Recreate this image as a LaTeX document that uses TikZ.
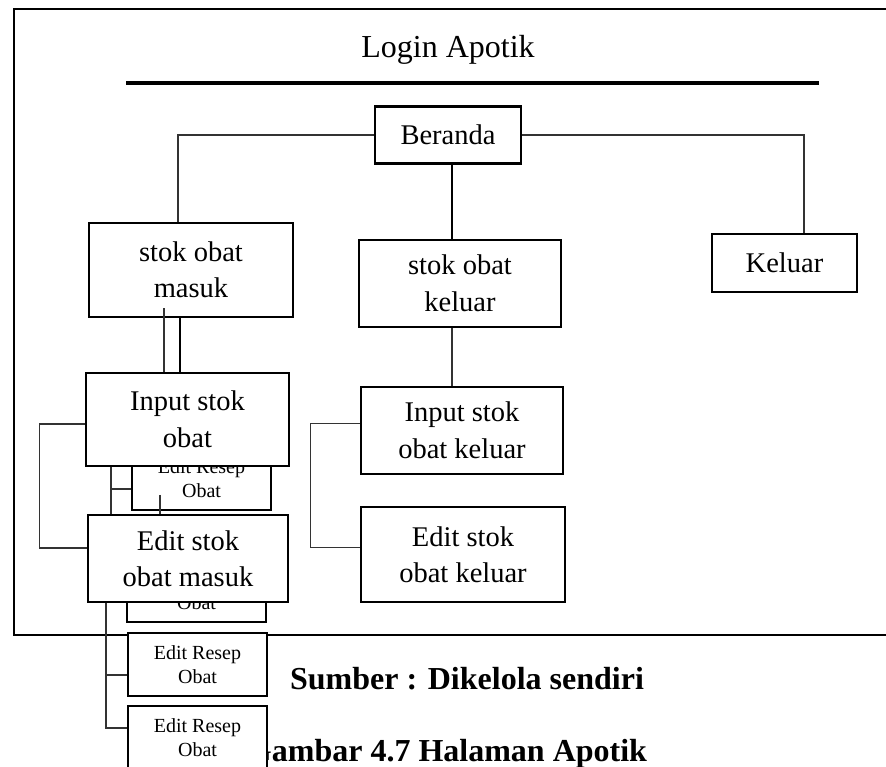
\documentclass[tikz,border=0pt]{standalone}
\usepackage{fontspec}
\setmainfont{Liberation Serif}
\begin{document}
\begin{tikzpicture}[x=1pt,y=-1pt,
  bigbox/.style={draw, line width=2.2pt, fill=white, inner sep=0pt, align=center,
    font=\fontsize{28.5}{36.5}\selectfont},
  smallbox/.style={draw, line width=1.5pt, fill=white, inner sep=0pt, align=center,
    font=\fontsize{20}{24}\selectfont, minimum width=139pt, minimum height=63pt},
  thinline/.style={line width=1.1pt, draw=black!80},
  thickline/.style={line width=2.3pt, draw=black},
  caption/.style={inner sep=0pt, anchor=base, font=\fontsize{32}{38}\selectfont\bfseries}
]
\useasboundingbox (0,0) rectangle (886,767);

% frame
\draw[line width=2.5pt] (886,9) -- (14,9) -- (14,635) -- (886,635);

% title and rule
\node[inner sep=0pt, anchor=base, font=\fontsize{32}{38}\selectfont] (title) at (448,58) {Login Apotik};
\draw[line width=4pt] (126,83) -- (819,83);

% captions
\node[caption] (sumber) at (467,689) {Sumber : Dikelola sendiri};
\node[caption] (gambar) at (447,761) {Gambar 4.7 Halaman Apotik};

% small boxes (behind)
\node[smallbox] (r1) at (201.5,478.5) {Edit Resep\\Obat};
\node[smallbox] (r2) at (196.5,590.5) {Edit Resep\\Obat};
\node[smallbox] (r3) at (197.5,664.5) {Edit Resep\\Obat};
\node[smallbox] (r4) at (197.5,737.5) {Edit Resep\\Obat};

% main boxes
\node[bigbox, minimum width=146pt, minimum height=57pt] (beranda) at (448,135) {Beranda};
\node[bigbox, minimum width=204pt, minimum height=94pt] (masuk) at (191,270) {stok obat\\masuk};
\node[bigbox, minimum width=202pt, minimum height=87pt] (sok) at (460,283.5) {stok obat\\keluar};
\node[bigbox, minimum width=145pt, minimum height=58pt] (keluar) at (784.5,263) {Keluar};
\node[bigbox, minimum width=203pt, minimum height=93pt] (is) at (187.5,419.5) {Input stok\\obat};
\node[bigbox, minimum width=200pt, minimum height=87pt] (em) at (188,558.5) {Edit stok\\obat masuk};
\node[bigbox, minimum width=202pt, minimum height=87pt] (ik) at (462,430.5) {Input stok\\obat keluar};
\node[bigbox, minimum width=204pt, minimum height=95pt] (ek) at (463,554.5) {Edit stok\\obat keluar};

% connectors from Beranda
\draw[thinline] (beranda.west) -| ([xshift=-13pt]masuk.north);
\draw[thinline] (beranda.east) -| ([xshift=19.5pt]keluar.north);
\draw[thickline] ([xshift=4pt]beranda.south) -- ([xshift=4pt]beranda.south |- sok.north);

% stok obat keluar branch
\draw[thinline] ([xshift=-8pt]sok.south) -- ([xshift=-8pt]sok.south |- ik.north);
\draw[thinline] ([yshift=7pt]ik.west) -- ++(-49,0) |- ([yshift=7pt]ek.west);

% stok obat masuk branch
\draw[thinline] ([xshift=-27pt,yshift=10pt]masuk.south) -- ([xshift=-27pt]masuk.south |- is.north);
\draw[thickline] ([xshift=-11pt]masuk.south) -- ([xshift=-11pt]masuk.south |- is.north);
\draw[thinline] ([yshift=-4.5pt]is.west) -- ++(-45,0) |- ([yshift=10.5pt]em.west);

% Edit Resep connectors
\draw[thinline] ([xshift=-76.5pt]is.south) -- ([xshift=-76.5pt]is.south |- em.north);
\draw[thinline] ([yshift=-10.5pt]r1.west) -- ++(-21,0);
\draw[thinline] ([xshift=-41.5pt,yshift=16pt]r1.south) -- ([xshift=-41.5pt]r1.south |- em.north);
\draw[thinline] ([xshift=-82pt]em.south) |- ([yshift=9.5pt]r4.west);
\draw[thinline] ([yshift=-10.5pt]r3.west) -- ++(-22,0);
\end{tikzpicture}
\end{document}
